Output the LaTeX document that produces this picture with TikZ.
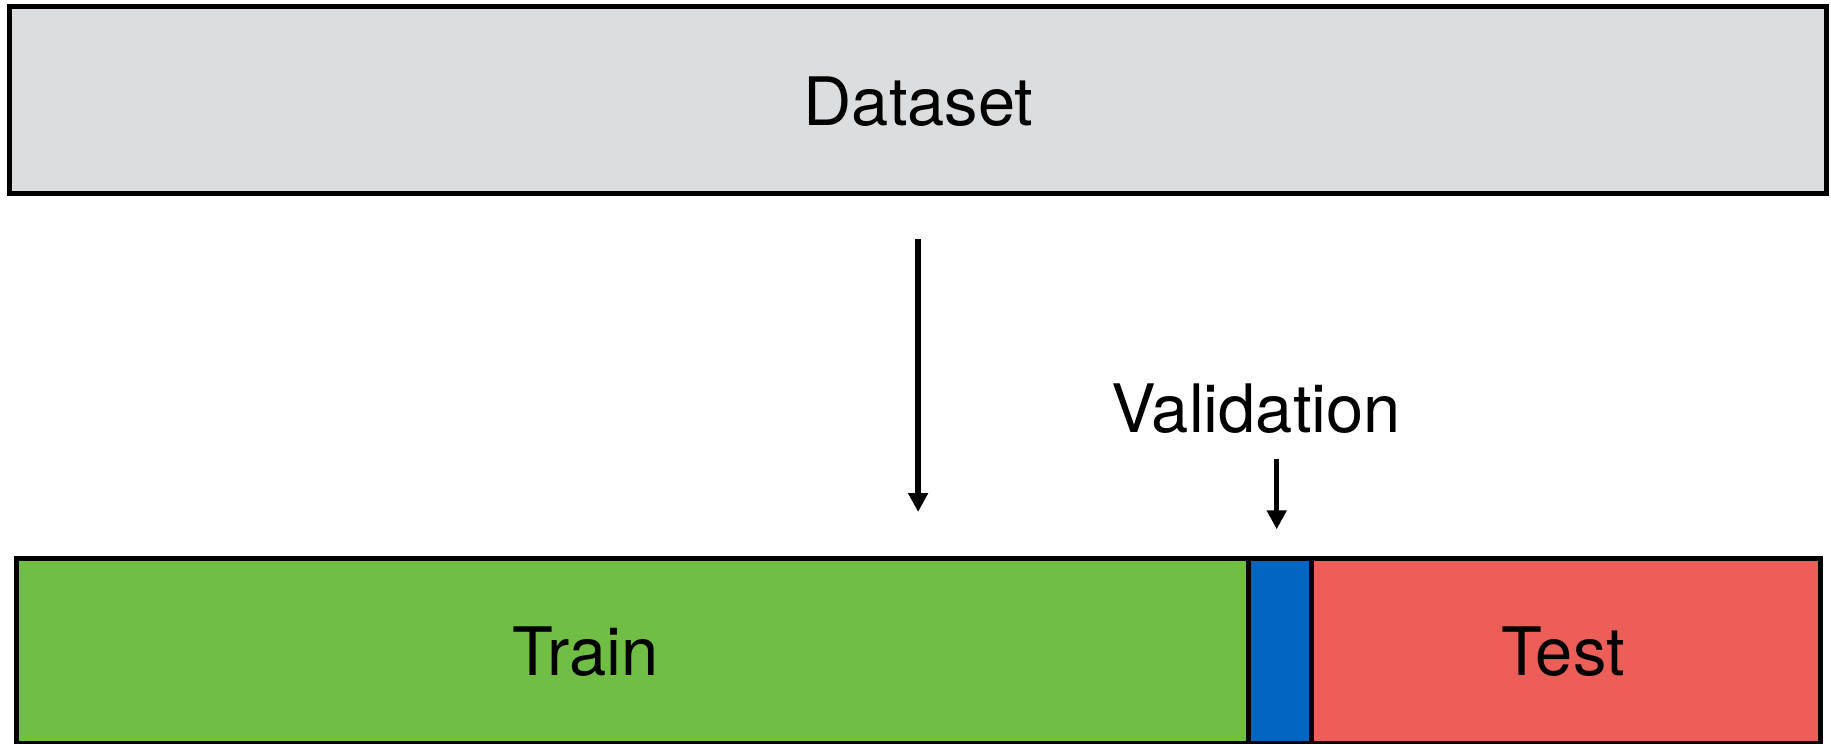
\documentclass[tikz,border=0pt]{standalone}
\usepackage{fontspec}
\setmainfont{TeX Gyre Heros}
\usetikzlibrary{arrows.meta}
\definecolor{setgray}{RGB}{220,221,223}
\definecolor{traingreen}{RGB}{112,190,68}
\definecolor{valblue}{RGB}{0,102,192}
\definecolor{testred}{RGB}{236,94,88}
\begin{document}
\begin{tikzpicture}[x=1pt,y=-1pt,
  box/.style={draw=black, line width=5pt, rectangle, inner sep=0pt, outer sep=0pt, anchor=north west},
  lbl/.style={inner sep=0pt, font=\fontsize{66.8}{80}\selectfont},
  arr/.style={line width=5.3pt, -{Triangle[width=19pt,length=19pt]}}]
\useasboundingbox (0,0) rectangle (1831,744);

% the whole dataset
\node[box, fill=setgray, minimum width=1817.2pt, minimum height=186.8pt] (dataset) at (9.5,6.7) {};
\node[lbl] (dstext) at (918.5,102) {Dataset};

% the split into three parts
\node[box, fill=traingreen, minimum width=1232.4pt, minimum height=185.5pt] (train) at (16.3,558) {};
\node[box, fill=valblue, minimum width=62.5pt, minimum height=185.5pt] (val) at (1248.7,558) {};
\node[box, fill=testred, minimum width=509.3pt, minimum height=185.5pt] (test) at (1311.2,558) {};
\node[lbl] (traintext) at (585.5,652) {Train};
\node[lbl] (testtext) at (1563,652) {Test};
\node[lbl] (vlabel) at (1256,409) {Validation};

% arrows
\draw[arr, shorten <=45.5pt, shorten >=46pt] (dataset.south) -- (dataset.south |- train.north);
\coordinate (vfrom) at (1276.7,459);
\coordinate (vto) at (1276.7,529.3);
\draw[arr] (vfrom) -- (vto);
\end{tikzpicture}
\end{document}
